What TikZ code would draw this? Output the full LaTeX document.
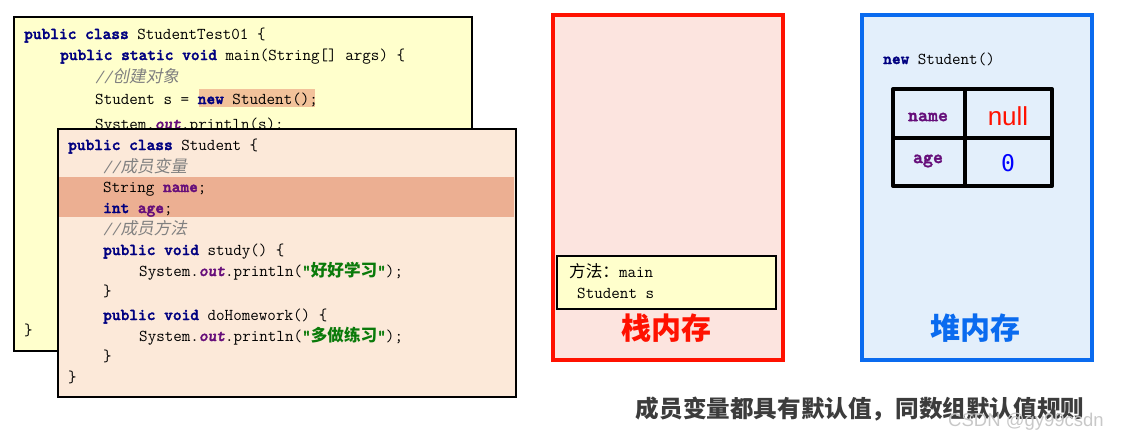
\documentclass[tikz,border=0pt]{standalone}
\usepackage{fontspec}
\newfontfamily\cjk{Noto Sans CJK SC}
\newfontfamily\cjkslant{Noto Sans CJK SC}[FakeSlant=0.2]
\newfontfamily\lsans{Liberation Sans}
\newfontfamily\dmono{DejaVu Sans Mono}
\newfontfamily\ttb{lmmonolt10-bold}[Extension=.otf, FakeBold=2]
\newfontfamily\ttbo{lmmonolt10-boldoblique}[Extension=.otf, FakeBold=2]
\definecolor{kwc}{HTML}{000080}
\definecolor{fldc}{HTML}{660E7A}
\definecolor{cmtc}{HTML}{808080}
\definecolor{strc}{HTML}{0A7A0A}
\definecolor{yellowbg}{HTML}{FFFFCC}
\definecolor{peachbg}{HTML}{FCE9D9}
\definecolor{bandc}{HTML}{ECAF92}
\definecolor{newhl}{HTML}{F2C29A}
\definecolor{stackbg}{HTML}{FCE4DF}
\definecolor{heapbg}{HTML}{E3EFFB}
\definecolor{redc}{HTML}{FF1100}
\definecolor{bluec}{HTML}{0A6BEF}
\definecolor{notec}{HTML}{3C3C3C}
\definecolor{wmc}{HTML}{C8C8C8}
\newcommand\codefont{\ttfamily\fontsize{16.6}{20}\selectfont}
\newcommand\kw[1]{{\ttb\color{kwc}#1}}
\newcommand\fld[1]{{\ttb\color{fldc}#1}}
\newcommand\outf{{\ttbo\color{fldc}out}}
\newcommand\cmt[1]{{\color{cmtc}\slshape //{\cjkslant #1}}}
\newcommand\strg[1]{{\ttb\color{strc}"{\cjk\bfseries #1}"}}
\begin{document}
\begin{tikzpicture}[x=1pt,y=-1pt,
  code/.style={anchor=base west, inner sep=0pt, font=\codefont},
  panel/.style={anchor=north west, inner sep=0pt, line width=2pt, draw=black},
  membox/.style={anchor=north west, inner sep=0pt, line width=4pt, minimum width=230pt, minimum height=345pt},
  memlabel/.style={inner sep=0pt, font=\cjk\bfseries\fontsize{30}{32}\selectfont},
  cell/.style={inner sep=0pt},
  fieldcell/.style={cell, font=\ttb\fontsize{19}{21}\selectfont, text=fldc}]
\useasboundingbox (0,0) rectangle (1121,439);

% ---- class StudentTest01 panel
\node[panel, fill=yellowbg, minimum width=458pt, minimum height=334pt] (box1) at (13,16) {};
\fill[newhl] (199,89) rectangle (315,107);
\node[code] (a1) at (24,39) {\kw{public class} StudentTest01 \{};
\node[code] (a2) at (60,60) {\kw{public static void} main(String[] args) \{};
\node[code] (a3) at (95,82) {\cmt{创建对象}};
\node[code] (a4) at (95,104) {Student s = \kw{new} Student();};
\node[code] (a5) at (95,129) {System.\outf.println(s);};
\node[code] (a6) at (24,335) {\}};

% ---- class Student panel
\node[panel, fill=peachbg, minimum width=458pt, minimum height=268pt] (box2) at (57,128) {};
\fill[bandc] (57,177) rectangle (514,217);
\node[panel, minimum width=458pt, minimum height=268pt] (box2f) at (57,128) {};
\node[code] (b1) at (68,150) {\kw{public class} Student \{};
\node[code] (b2) at (103,172) {\cmt{成员变量}};
\node[code] (b3) at (103,192) {String \fld{name};};
\node[code] (b4) at (103,213) {\kw{int} \fld{age};};
\node[code] (b5) at (103,234) {\cmt{成员方法}};
\node[code] (b6) at (103,255) {\kw{public void} study() \{};
\node[code] (b7) at (139,276) {System.\outf.println(\strg{好好学习});};
\node[code] (b8) at (103,296) {\}};
\node[code] (b9) at (103,320) {\kw{public void} doHomework() \{};
\node[code] (b10) at (139,341) {System.\outf.println(\strg{多做练习});};
\node[code] (b11) at (103,361) {\}};
\node[code] (b12) at (68,382) {\}};

% ---- stack memory
\node[membox, draw=redc, fill=stackbg] (stack) at (551,13) {};
\node[panel, fill=yellowbg, minimum width=219pt, minimum height=53pt] (frame) at (556,255) {};
\node[code] (f1) at (569,277) {{\cjk 方法：}main};
\node[code] (f2) at (577,298) {Student s};
\node[memlabel, text=redc] (stacklabel) at (666,328) {栈内存};

% ---- heap memory
\node[membox, draw=bluec, fill=heapbg] (heap) at (860,13) {};
\node[code] (obj) at (883,64) {\kw{new} Student()};
\draw[line width=4pt, line join=round] (893,89) rectangle (1052,186);
\draw[line width=4pt] (965,89) -- (965,186);
\draw[line width=4pt] (893,138) -- (1052,138);
\node[fieldcell] (cname) at (928,117) {name};
\node[fieldcell] (cage) at (928,161) {age};
\node[cell, font=\lsans\fontsize{26}{28}\selectfont, text=redc] (cnull) at (1008,116) {null};
\node[cell, font=\dmono\fontsize{23}{25}\selectfont, text=blue] (czero) at (1008,163) {0};
\node[memlabel, text=bluec] (heaplabel) at (975,328) {堆内存};

% ---- note
\node[inner sep=0pt, font=\cjk\bfseries\fontsize{23.6}{26}\selectfont, text=notec] (note) at (860,409) {成员变量都具有默认值，同数组默认值规则};
\node[inner sep=0pt, font=\lsans\fontsize{18.5}{20}\selectfont, text=wmc] (wm) at (1026,422) {CSDN @gy99csdn};
\end{tikzpicture}
\end{document}
